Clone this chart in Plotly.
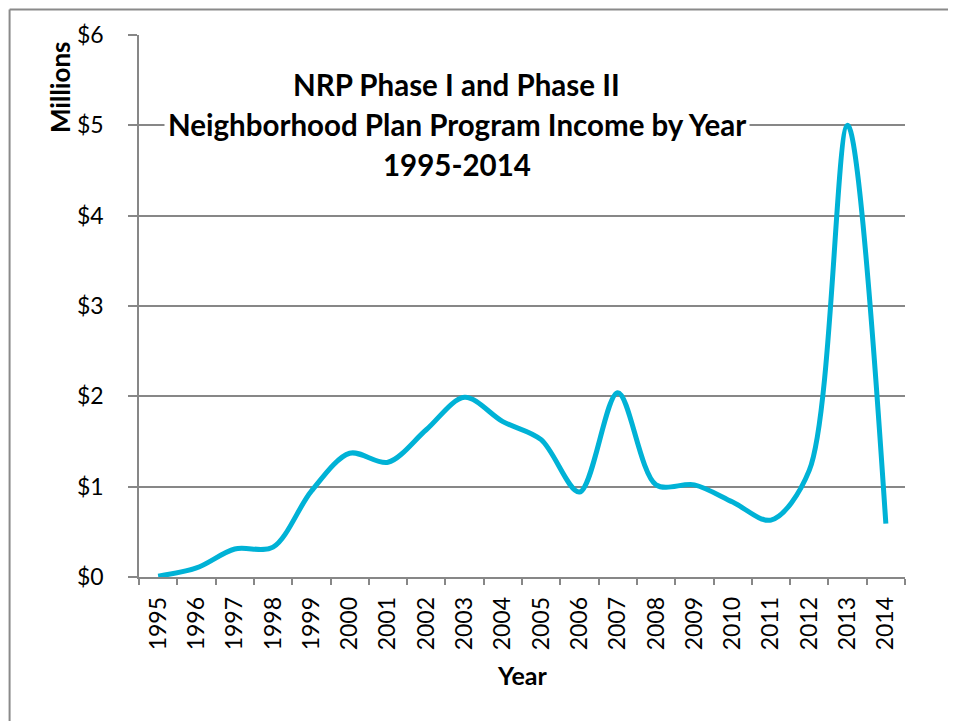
import plotly.graph_objects as go

years = [str(y) for y in range(1995, 2015)]
income_millions = [0.01, 0.10, 0.31, 0.33, 0.95, 1.37, 1.27, 1.63, 1.99, 1.72,
                   1.52, 0.94, 2.04, 1.02, 1.02, 0.83, 0.63, 1.18, 5.00, 0.59]
y_ticks = [0, 1, 2, 3, 4, 5, 6]
y_tick_labels = ["$0", "$1", "$2", "$3", "$4", "$5", "$6"]
title_lines = ["NRP Phase I and Phase II",
               "Neighborhood Plan Program Income by Year",
               "1995-2014"]

FONT = "Lato, Open Sans, sans-serif"
GRID = "#878787"

OFF = 8  # page body offset
W, H = 956, 721
L, T = 139 - OFF, 35 - OFF
pw, ph = 766.5, 542
R = W - L - pw
B = H - T - ph


def px(s):
    return ((s - OFF) - L) / pw


def py(s):
    return (T + ph - (s - OFF)) / ph


fig = go.Figure()
fig.add_trace(go.Scatter(
    x=years, y=income_millions, mode="lines",
    line=dict(color="#00B2D6", width=5, shape="spline", smoothing=0.9),
    hoverinfo="x+y", showlegend=False,
))

fig.update_layout(
    width=W, height=H,
    margin=dict(l=L, r=R, t=T, b=B),
    paper_bgcolor="white", plot_bgcolor="white",
    font=dict(family=FONT, color="black", size=22),
    xaxis=dict(
        type="category", tickson="boundaries", ticks="outside", ticklen=6,
        tickcolor=GRID, tickwidth=1.5, showline=True, linecolor=GRID, linewidth=1.5,
        showgrid=False, tickangle=-90, tickfont=dict(size=23, family=FONT),
        ticklabelstandoff=9, range=[-0.5, 19.5],
    ),
    yaxis=dict(
        range=[0, 6], tickmode="array", tickvals=y_ticks, ticktext=y_tick_labels,
        ticks="outside", ticklen=9,
        tickcolor=GRID, tickwidth=1.5, showline=True, linecolor=GRID, linewidth=1.5,
        showgrid=True, gridcolor=GRID, gridwidth=1.5, zeroline=False,
        tickfont=dict(size=23, family=FONT), ticklabelstandoff=20,
    ),
)

# outer chart border (left and top edges visible in the frame)
border = dict(color="#8a8a8a", width=2)
fig.add_shape(type="line", xref="paper", yref="paper",
              x0=px(9.5), x1=px(9.5), y0=py(722), y1=py(9.5), line=border, layer="below")
fig.add_shape(type="line", xref="paper", yref="paper",
              x0=px(9.5), x1=px(957), y0=py(9.5), y1=py(9.5), line=border, layer="below")

title_y = [84, 124, 164]
for txt, yy in zip(title_lines, title_y):
    fig.add_annotation(
        text=f"<b>{txt}</b>", xref="paper", yref="paper", x=px(457), y=py(yy),
        xanchor="center", yanchor="middle", showarrow=False,
        font=dict(size=29.5, family=FONT, color="black"),
        bgcolor="white", borderpad=3,
    )

fig.add_annotation(text="<b>Millions</b>", xref="paper", yref="paper",
                   x=px(60), y=py(87), xanchor="center", yanchor="middle",
                   textangle=-90, showarrow=False, font=dict(size=26, family=FONT))
fig.add_annotation(text="<b>Year</b>", xref="paper", yref="paper",
                   x=px(522), y=py(675), xanchor="center", yanchor="middle",
                   showarrow=False, font=dict(size=25, family=FONT))

fig.write_html("out.html")
